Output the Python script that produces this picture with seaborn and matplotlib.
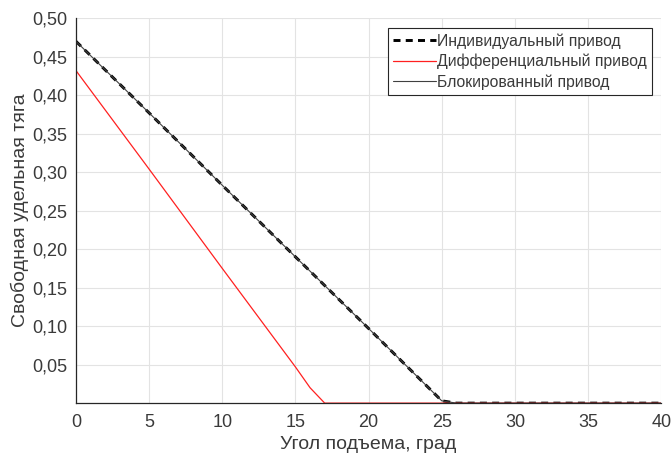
import numpy as np
import pandas as pd
import seaborn as sns
from matplotlib import pyplot as plt

# values (angle in degrees -> free specific thrust)
ind_angle = [0, 5, 10, 15, 20, 25, 26, 30, 35, 40]
ind_thrust = [0.470, 0.377, 0.283, 0.190, 0.097, 0.003, 0.0, 0.0, 0.0, 0.0]
diff_angle = [0, 5, 10, 15, 16, 17, 20, 25, 30, 35, 40]
diff_thrust = [0.432, 0.304, 0.175, 0.047, 0.020, 0.0, 0.0, 0.0, 0.0, 0.0, 0.0]
blk_angle = ind_angle
blk_thrust = ind_thrust

labels = ["Индивидуальный привод", "Дифференциальный привод", "Блокированный привод"]
x_ticks = [0, 5, 10, 15, 20, 25, 30, 35, 40]
y_ticks = [0.05, 0.10, 0.15, 0.20, 0.25, 0.30, 0.35, 0.40, 0.45, 0.50]

sns.set_style("whitegrid")
plt.rcParams["font.family"] = ["Liberation Sans", "DejaVu Sans"]
txt_color = "#3a3a3a"

fig, ax = plt.subplots(figsize=(6.72, 4.55), dpi=100)
fig.subplots_adjust(left=0.113, right=0.984, top=0.960, bottom=0.114)

ind_df = pd.DataFrame({"x": ind_angle, "y": ind_thrust})
diff_df = pd.DataFrame({"x": diff_angle, "y": diff_thrust})
blk_df = pd.DataFrame({"x": blk_angle, "y": blk_thrust})

sns.lineplot(data=ind_df, x="x", y="y", ax=ax, color="black", linewidth=2.1,
             linestyle=(0, (2.4, 1.8)), label=labels[0])
sns.lineplot(data=diff_df, x="x", y="y", ax=ax, color="#ff2020", linewidth=0.9,
             label=labels[1])
sns.lineplot(data=blk_df, x="x", y="y", ax=ax, color="#404040", linewidth=0.8,
             label=labels[2])

ax.set_xlim(0, 40)
ax.set_ylim(0, 0.5)
ax.set_xticks(x_ticks)
ax.set_yticks(y_ticks)
ax.set_yticklabels([f"{v:.2f}".replace(".", ",") for v in y_ticks])
ax.tick_params(axis="both", direction="in", length=4, labelsize=13,
               colors="#262626", labelcolor=txt_color, width=0.8)
ax.tick_params(axis="x", pad=8)
ax.tick_params(axis="y", pad=6)
ax.grid(True, color="#e3e3e3", linewidth=0.8)
for side in ["top", "right"]:
    ax.spines[side].set_visible(False)
for side in ["left", "bottom"]:
    ax.spines[side].set_color("#262626")
    ax.spines[side].set_linewidth(0.9)

ax.set_xlabel("Угол подъема, град", fontsize=14, color=txt_color, labelpad=3.5)
ax.set_ylabel("Свободная удельная тяга", fontsize=14, color=txt_color, labelpad=2.5)

leg = ax.legend(loc="upper right", fontsize=11.3, frameon=True, fancybox=False,
                handlelength=2.7, handletextpad=0.05, borderpad=0.35,
                labelspacing=0.32, borderaxespad=0.6)
leg.get_frame().set_edgecolor("#262626")
leg.get_frame().set_linewidth(0.8)
leg.get_frame().set_alpha(1)
for t in leg.get_texts():
    t.set_color(txt_color)

plt.savefig("out.png", dpi=100)
